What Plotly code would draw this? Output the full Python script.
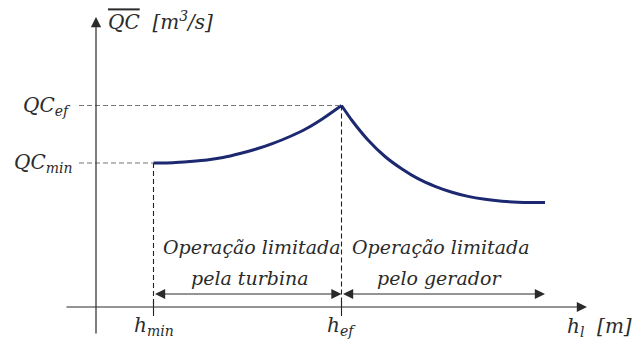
import plotly.graph_objects as go

# Operating envelope: turbine-limited branch (h_min -> h_ef) and generator-limited branch (h_ef -> ...)
h_turbina = [0.575, 0.77, 0.94, 1.11, 1.27, 1.44, 1.61, 1.77, 1.94, 2.11, 2.27, 2.455]
qc_turbina = [1.44, 1.443, 1.455, 1.47, 1.495, 1.535, 1.582, 1.637, 1.705, 1.787, 1.885, 2.015]

h_gerador = [2.455, 2.56, 2.72, 2.89, 3.06, 3.22, 3.39, 3.56, 3.72, 3.89, 4.06, 4.22, 4.49]
qc_gerador = [2.015, 1.865, 1.67, 1.505, 1.38, 1.283, 1.207, 1.148, 1.106, 1.077, 1.058, 1.048, 1.044]

H_MIN, H_EF = h_turbina[0], h_turbina[-1]
QC_MIN, QC_EF = qc_turbina[0], qc_turbina[-1]
H_END = h_gerador[-1]

# axis extents (arrow tails / tips) and level of the range arrows
X_AXIS = (-0.31, 4.91)
Y_AXIS = (-0.28, 2.90)
ARROW_LEVEL = 0.13

FONT = "DejaVu Serif"
INK = "#2b2b2b"
CURVE = "#1c2870"

fig = go.Figure()
for hx, qy in ((h_turbina, qc_turbina), (h_gerador, qc_gerador)):
    fig.add_trace(go.Scatter(x=hx, y=qy, mode="lines",
                             line=dict(color=CURVE, width=3, shape="spline", smoothing=0.6),
                             hoverinfo="skip", showlegend=False))

shapes = []
# horizontal guide lines to the QC levels
for lvl, hx in ((QC_MIN, H_MIN), (QC_EF, H_EF)):
    shapes.append(dict(type="line", x0=-0.17, x1=hx, y0=lvl, y1=lvl,
                       line=dict(color="#777777", width=1.2, dash="5px,3px")))
# vertical guide lines down to the h axis, with a tick under the axis
for hx, lvl in ((H_MIN, QC_MIN), (H_EF, QC_EF)):
    shapes.append(dict(type="line", x0=hx, x1=hx, y0=lvl, y1=0,
                       line=dict(color="#222222", width=1.1, dash="5px,3px")))
    shapes.append(dict(type="line", x0=hx, x1=hx, y0=0.06, y1=-0.09,
                       line=dict(color="#222222", width=1.1)))

annotations = []

def arrow(x0, y0, x1, y1, both=False):
    annotations.append(dict(x=x1, y=y1, ax=x0, ay=y0, xref="x", yref="y",
                            axref="x", ayref="y", text="", showarrow=True,
                            arrowhead=2, arrowsize=1.7, arrowwidth=1.2,
                            arrowcolor="#2a2a2a", standoff=0, startstandoff=0,
                            arrowside="end+start" if both else "end",
                            startarrowhead=2, startarrowsize=1.7))

# axes
arrow(X_AXIS[0], 0, X_AXIS[1], 0)
arrow(0, Y_AXIS[0], 0, Y_AXIS[1])
# operating ranges
arrow(H_MIN, ARROW_LEVEL, H_EF, ARROW_LEVEL, both=True)
arrow(H_EF, ARROW_LEVEL, H_END, ARROW_LEVEL, both=True)


def label(x, y, text, xanchor="center", yanchor="middle", size=19):
    annotations.append(dict(x=x, y=y, xref="x", yref="y", text=text, showarrow=False,
                            xanchor=xanchor, yanchor=yanchor,
                            font=dict(family=FONT, size=size, color=INK, style="italic",
                                      weight="normal")))

label(-0.235, QC_EF, "QC<sub>ef</sub>", xanchor="right", size=20)
label(-0.22, QC_MIN, "QC<sub>min</sub>", xanchor="right", size=20)
label(0.10, 2.86, '<span style="text-decoration:overline">QC</span>\u00a0\u00a0[m<sup>3</sup>/s]',
      xanchor="left", size=20)
label(H_MIN, -0.04, "h<sub>min</sub>", yanchor="top", size=20)
label(H_EF, -0.04, "h<sub>ef</sub>", yanchor="top", size=20)
label(5.38, -0.20, "h<sub>l</sub>\u00a0\u00a0[m]", xanchor="right", size=20)

label(1.555, 0.60, "Operação limitada")
label(1.54, 0.29, "pela turbina")
label(3.45, 0.60, "Operação limitada")
label(3.43, 0.29, "pelo gerador")

fig.update_layout(
    width=635, height=340,
    margin=dict(l=0, r=0, t=0, b=0),
    paper_bgcolor="white", plot_bgcolor="white",
    xaxis=dict(range=[-0.96, 5.39], visible=False, fixedrange=True),
    yaxis=dict(range=[-0.33, 3.07], visible=False, fixedrange=True),
    shapes=shapes, annotations=annotations,
    showlegend=False,
)

fig.write_html("out.html")
